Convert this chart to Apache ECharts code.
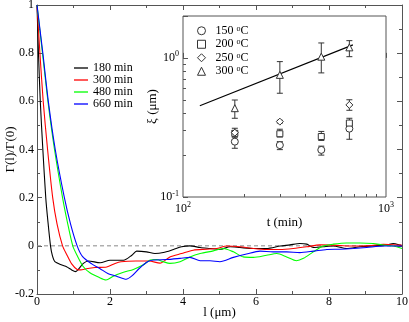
<!DOCTYPE html>
<html>
<head>
<meta charset="utf-8">
<script src="https://cdn.jsdelivr.net/npm/echarts@6/dist/echarts.min.js"></script>
<style>
  html, body { margin: 0; padding: 0; background: #fff; }
  #chart { width: 409px; height: 322px; }
</style>
</head>
<body>
<div id="chart"></div>
<script>
// main panel: correlation curves, l in um
const curveNames = ["180 min", "300 min", "480 min", "660 min"];
const curveColors = ["#000000", "#ff0000", "#00ff00", "#0000ff"];

const curve180 = [[0,1],[0.04,0.8],[0.09,0.6],[0.16,0.4],[0.24,0.2],[0.3,0.1],[0.37,0],[0.42,-0.04],[0.49,-0.066],[0.68,-0.08],[0.81,-0.087],[0.95,-0.1],[1.05,-0.107],[1.12,-0.1],[1.27,-0.073],[1.41,-0.063],[1.73,-0.07],[2.0,-0.06],[2.37,-0.06],[2.6,-0.039],[2.73,-0.022],[3.0,-0.025],[3.23,-0.032],[3.46,-0.028],[3.74,-0.015],[3.96,-0.004],[4.19,0],[4.47,-0.007],[4.74,-0.011],[5.01,-0.015],[5.29,-0.004],[5.56,-0.007],[5.93,-0.011],[6.29,-0.011],[6.66,-0.001],[6.93,0.004],[7.2,0.01],[7.39,0.007],[7.57,-0.007],[7.84,-0.004],[8.12,-0.001],[8.48,-0.011],[8.85,-0.004],[9.21,0],[9.58,0.003],[9.76,0.01],[9.95,0.003],[10,0]];
const curve300 = [[0,1],[0.08,0.8],[0.17,0.6],[0.29,0.4],[0.43,0.2],[0.55,0.09],[0.7,0],[0.81,-0.035],[0.95,-0.075],[1.1,-0.098],[1.2,-0.1],[1.35,-0.095],[1.59,-0.09],[1.91,-0.088],[2.14,-0.073],[2.3,-0.066],[2.71,-0.063],[3.07,-0.063],[3.37,-0.072],[3.64,-0.046],[3.96,-0.032],[4.28,-0.018],[4.65,-0.014],[4.92,-0.011],[5.2,-0.001],[5.56,-0.004],[5.93,-0.011],[6.29,-0.015],[6.66,-0.015],[7.02,-0.011],[7.39,-0.004],[7.75,0.004],[8.12,0.003],[8.58,-0.001],[9.03,0],[9.49,0.006],[9.95,0.003],[10,0.002]];
const curve480 = [[0,1],[0.15,0.8],[0.3,0.6],[0.48,0.4],[0.7,0.2],[0.83,0.1],[0.98,0],[1.1,-0.04],[1.27,-0.087],[1.45,-0.112],[1.71,-0.132],[1.89,-0.142],[2.09,-0.126],[2.37,-0.11],[2.64,-0.098],[2.9,-0.08],[3.1,-0.059],[3.28,-0.057],[3.46,-0.066],[3.64,-0.073],[3.92,-0.066],[4.19,-0.046],[4.47,-0.032],[4.83,-0.021],[5.11,-0.011],[5.38,-0.025],[5.65,-0.046],[5.93,-0.048],[6.29,-0.039],[6.57,-0.032],[6.84,-0.046],[7.11,-0.062],[7.3,-0.052],[7.57,-0.025],[7.84,-0.001],[8.12,0.007],[8.48,0.012],[8.85,0.012],[9.21,0.01],[9.49,0.003],[9.76,-0.001],[10,-0.011]];
const curve660 = [[0,1],[0.16,0.8],[0.31,0.6],[0.5,0.4],[0.75,0.2],[0.92,0.09],[1.1,0],[1.25,-0.045],[1.5,-0.075],[1.73,-0.095],[1.94,-0.115],[2.21,-0.128],[2.44,-0.139],[2.6,-0.125],[2.8,-0.094],[3.03,-0.066],[3.19,-0.059],[3.55,-0.057],[3.92,-0.052],[4.19,-0.048],[4.47,-0.062],[4.74,-0.062],[5.01,-0.066],[5.38,-0.048],[5.74,-0.034],[6.11,-0.022],[6.47,-0.025],[6.84,-0.025],[7.2,-0.028],[7.57,-0.022],[7.94,-0.015],[8.3,-0.014],[8.67,-0.011],[9.03,-0.007],[9.49,-0.001],[10,-0.001]];
const zeroLine = [[0,0],[10,0]];

// inset: xi vs t (log-log)
const times = [180, 300, 480, 660];
const tempNames = ["150 °C", "200 °C", "250 °C", "300 °C"];
const tempSymbols = ["circle", "rect", "diamond", "triangle"];
const xi150 = [0.25, 0.236, 0.218, 0.31];
const xi200 = [0.287, 0.285, 0.272, 0.34];
const xi250 = [0.29, 0.348, null, 0.459];
const xi300 = [0.435, 0.755, 1.02, 1.19];
const lo150 = [0.224, 0.219, 0.2, 0.26];
const hi150 = [0.27, 0.25, 0.232, 0.335];
const lo200 = [0.27, 0.27, 0.255, 0.32];
const hi200 = [0.312, 0.307, 0.296, 0.368];
const lo250 = [0.28, 0.34, null, 0.42];
const hi250 = [0.3, 0.356, null, 0.5];
const lo300 = [0.368, 0.557, 0.78, 1.02];
const hi300 = [0.498, 0.94, 1.28, 1.33];
const fitT = [121, 687];
const fitXi = [0.452, 1.24];
const tMinorTicks = [200, 300, 400, 500, 600, 700, 800, 900];
const xiMinorTicks = [0.2, 0.3, 0.4, 0.5, 0.6, 0.7, 0.8, 0.9, 2];

const serif = "Liberation Serif";
const frame = "#555";

const chart = echarts.init(document.getElementById("chart"));

function pairs(xs, ys) {
  return xs.map((x, i) => [x, ys[i]]).filter(p => p[1] != null);
}
function bars(xs, lo, hi) {
  return xs.map((x, i) => [x, lo[i], hi[i]]).filter(p => p[1] != null);
}
function powLabel(v) {
  const e = Math.log10(v);
  if (Math.abs(e - Math.round(e)) > 1e-6) return "";
  return "{b|10}{s|" + Math.round(e) + "}";
}
const powRich = {
  b: { fontFamily: serif, fontSize: 12, color: "#000" },
  s: { fontFamily: serif, fontSize: 8, color: "#000", verticalAlign: "bottom", padding: [0, 0, 7, 0] }
};

function errorBarSeries(data) {
  return {
    type: "custom",
    xAxisIndex: 2,
    yAxisIndex: 2,
    data,
    encode: { x: 0, y: [1, 2] },
    silent: true,
    z: 3,
    renderItem(params, api) {
      const a = api.coord([api.value(0), api.value(1)]);
      const b = api.coord([api.value(0), api.value(2)]);
      const w = 3;
      const st = { stroke: "#333", lineWidth: 1 };
      return {
        type: "group",
        children: [
          { type: "line", shape: { x1: a[0], y1: a[1], x2: b[0], y2: b[1] }, style: st },
          { type: "line", shape: { x1: a[0] - w, y1: a[1], x2: a[0] + w, y2: a[1] }, style: st },
          { type: "line", shape: { x1: b[0] - w, y1: b[1], x2: b[0] + w, y2: b[1] }, style: st }
        ]
      };
    }
  };
}

const tempData = [xi150, xi200, xi250, xi300];
const curves = [curve180, curve300, curve480, curve660];

const mainTick = { show: true, inside: true, length: 5, lineStyle: { color: frame } };
const mainMinor = { show: true, splitNumber: 2, length: 3, lineStyle: { color: frame } };

chart.setOption({
  animation: false,
  backgroundColor: "#fff",
  textStyle: { fontFamily: serif },
  grid: [
    { left: 37, top: 5, width: 365, height: 289, outerBoundsMode: "none", containLabel: false },
    { left: 183, top: 16, width: 203, height: 181, outerBoundsMode: "none", containLabel: false,
      show: true, backgroundColor: "#fff", borderColor: frame, borderWidth: 1 }
  ],
  legend: [
    {
      data: curveNames,
      orient: "vertical",
      left: 74,
      top: 62,
      padding: 0,
      icon: "rect",
      itemWidth: 14,
      itemHeight: 1.3,
      itemGap: 0,
      textStyle: { fontFamily: serif, fontSize: 12, color: "#000", lineHeight: 11.8 }
    },
    {
      data: tempNames,
      orient: "vertical",
      left: 197,
      top: 24,
      padding: 0,
      itemWidth: 8,
      itemHeight: 8,
      itemGap: 0,
      itemStyle: { color: "#fff", borderColor: "#333", borderWidth: 1 },
      formatter(name) {
        const n = name.split(" ")[0];
        return "{n|" + n + " }{s|o}{n|C}";
      },
      textStyle: {
        fontFamily: serif, fontSize: 12, color: "#000", lineHeight: 13.5, padding: [0, 0, 0, 5],
        rich: {
          n: { fontFamily: serif, fontSize: 12, color: "#000", lineHeight: 13.5 },
          s: { fontFamily: serif, fontSize: 8, color: "#000", lineHeight: 13.5, verticalAlign: "bottom", padding: [0, 0, 5, 0] }
        }
      }
    }
  ],
  xAxis: [
    {
      gridIndex: 0, type: "value", min: 0, max: 10, interval: 2, position: "bottom",
      name: "l (μm)", nameLocation: "middle", nameGap: 12, nameMoveOverlap: false,
      nameTextStyle: { fontFamily: serif, fontSize: 13, color: "#000" },
      axisLine: { show: true, onZero: false, lineStyle: { color: frame } },
      axisTick: mainTick, minorTick: mainMinor, splitLine: { show: false },
      axisLabel: { fontFamily: serif, fontSize: 12, color: "#000", margin: 2 }
    },
    {
      gridIndex: 0, type: "value", min: 0, max: 10, interval: 2, position: "top",
      axisLine: { show: true, onZero: false, lineStyle: { color: frame } },
      axisTick: mainTick, minorTick: mainMinor, splitLine: { show: false },
      axisLabel: { show: false }
    },
    {
      gridIndex: 1, type: "log", logBase: 10, min: 100, max: 1000, position: "bottom",
      name: "t (min)", nameLocation: "middle", nameGap: 19, nameMoveOverlap: false,
      nameTextStyle: { fontFamily: serif, fontSize: 13, color: "#000" },
      axisLine: { show: false },
      axisTick: { show: true, inside: true, length: 5, lineStyle: { color: frame } },
      splitLine: { show: false },
      axisLabel: { formatter: powLabel, rich: powRich, margin: 4 }
    },
    {
      gridIndex: 1, type: "value", min: 2, max: 3, position: "bottom",
      axisLine: { show: false },
      axisTick: { show: true, inside: true, length: 3, lineStyle: { color: frame }, customValues: tMinorTicks.map(Math.log10) },
      splitLine: { show: false },
      axisLabel: { show: false }
    }
  ],
  yAxis: [
    {
      gridIndex: 0, type: "value", min: -0.2, max: 1, interval: 0.2, position: "left",
      name: "Γ(l)/Γ(0)", nameLocation: "middle", nameGap: 20, nameRotate: 90, nameMoveOverlap: false,
      nameTextStyle: { fontFamily: serif, fontSize: 13, color: "#000" },
      axisLine: { show: true, onZero: false, lineStyle: { color: frame } },
      axisTick: mainTick, minorTick: mainMinor, splitLine: { show: false },
      axisLabel: {
        fontFamily: serif, fontSize: 12, color: "#000", margin: 3,
        formatter: v => (Math.abs(v) < 1e-9 ? "0" : String(+v.toFixed(1)))
      }
    },
    {
      gridIndex: 0, type: "value", min: -0.2, max: 1, interval: 0.2, position: "right",
      axisLine: { show: true, onZero: false, lineStyle: { color: frame } },
      axisTick: mainTick, minorTick: mainMinor, splitLine: { show: false },
      axisLabel: { show: false }
    },
    {
      gridIndex: 1, type: "log", logBase: 10, min: 0.1, max: 2, position: "left",
      name: "ξ (μm)", nameLocation: "middle", nameGap: 24, nameRotate: 90, nameMoveOverlap: false,
      nameTextStyle: { fontFamily: serif, fontSize: 13, color: "#000" },
      axisLine: { show: false },
      axisTick: { show: true, inside: true, length: 5, lineStyle: { color: frame } },
      splitLine: { show: false },
      axisLabel: { formatter: powLabel, rich: powRich, margin: 4 }
    },
    {
      gridIndex: 1, type: "value", min: -1, max: Math.log10(2), position: "left",
      axisLine: { show: false },
      axisTick: { show: true, inside: true, length: 3, lineStyle: { color: frame }, customValues: xiMinorTicks.map(Math.log10) },
      splitLine: { show: false },
      axisLabel: { show: false }
    }
  ],
  series: [
    {
      type: "line", xAxisIndex: 0, yAxisIndex: 0, data: zeroLine, symbol: "none", silent: true,
      lineStyle: { color: "#888", width: 1, type: [4, 3] }, z: 1
    },
    ...curves.map((c, i) => ({
      name: curveNames[i],
      type: "line", xAxisIndex: 0, yAxisIndex: 0, data: c, symbol: "none", smooth: 0.25,
      lineStyle: { color: curveColors[i], width: 1.1 },
      itemStyle: { color: curveColors[i] },
      z: 2
    })),
    errorBarSeries(bars(times, lo150, hi150)),
    errorBarSeries(bars(times, lo200, hi200)),
    errorBarSeries(bars(times, lo250, hi250)),
    errorBarSeries(bars(times, lo300, hi300)),
    ...tempData.map((d, i) => ({
      name: tempNames[i],
      type: "scatter", xAxisIndex: 2, yAxisIndex: 2, data: pairs(times, d),
      symbol: tempSymbols[i], symbolSize: i === 1 ? 6 : 7,
      itemStyle: { color: "#fff", borderColor: "#333", borderWidth: 1, opacity: 1 },
      z: 4
    })),
    {
      type: "line", xAxisIndex: 2, yAxisIndex: 2, data: pairs(fitT, fitXi), symbol: "none", silent: true,
      lineStyle: { color: "#000", width: 1.1 }, z: 3
    }
  ]
});
</script>
</body>
</html>
